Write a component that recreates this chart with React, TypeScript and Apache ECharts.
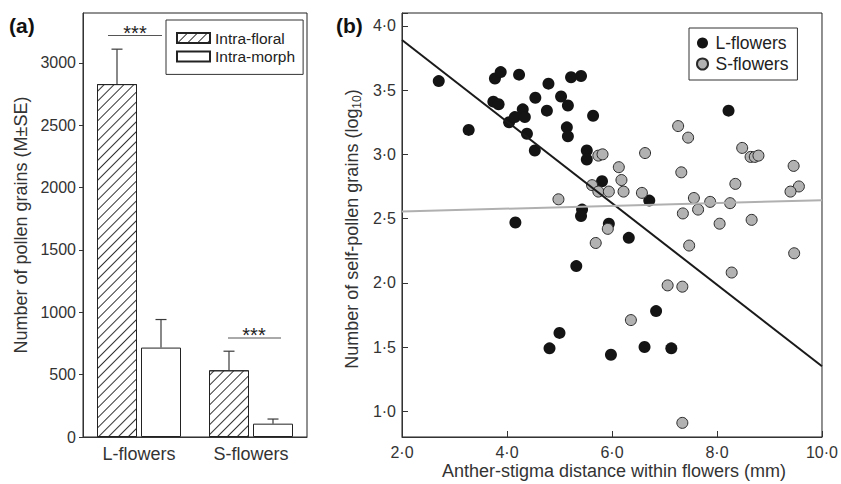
import React, { useEffect, useRef } from 'react';
import * as echarts from 'echarts';

// ---------- Panel (a) data ----------
const groups = ['L-flowers', 'S-flowers'];
const intraFloralMean = [2830, 535];
const intraFloralSE = [280, 153];
const intraMorphMean = [717, 107];
const intraMorphSE = [225, 37];

// ---------- Panel (b) data ----------
const lFlowers: [number, number][] = [
  [2.70, 3.57], [3.27, 3.19], [3.77, 3.59], [3.88, 3.64], [4.23, 3.62],
  [3.74, 3.41], [3.84, 3.39], [4.04, 3.25], [4.15, 3.29], [4.30, 3.35],
  [4.34, 3.29], [4.54, 3.44], [4.38, 3.16], [4.53, 3.03], [4.16, 2.47],
  [4.79, 3.55], [4.76, 3.34], [5.22, 3.60], [5.41, 3.61], [5.03, 3.45],
  [5.16, 3.38], [5.64, 3.30], [5.14, 3.21], [5.16, 3.14], [5.52, 3.03],
  [5.52, 2.96], [5.81, 2.79], [6.71, 2.64], [5.43, 2.57], [5.41, 2.52],
  [5.94, 2.46], [6.32, 2.35], [5.32, 2.13], [4.81, 1.49], [5.00, 1.61],
  [5.98, 1.44], [6.62, 1.50], [7.13, 1.49], [6.84, 1.78], [8.22, 3.34],
];
const sFlowers: [number, number][] = [
  [4.98, 2.65], [7.26, 3.22], [6.63, 3.01], [5.74, 2.99], [5.82, 3.00],
  [6.13, 2.90], [6.18, 2.80], [5.62, 2.76], [5.74, 2.71], [5.94, 2.71],
  [6.22, 2.71], [6.57, 2.70], [7.32, 2.86], [7.35, 2.54], [5.92, 2.42],
  [5.69, 2.31], [7.45, 3.13], [8.48, 3.05], [8.64, 2.98], [8.72, 2.98],
  [8.79, 2.99], [9.46, 2.91], [9.56, 2.75], [9.40, 2.71], [8.35, 2.77],
  [7.56, 2.66], [7.64, 2.57], [7.87, 2.63], [8.25, 2.62], [8.05, 2.46],
  [8.66, 2.49], [7.47, 2.29], [9.47, 2.23], [8.28, 2.08], [7.34, 1.97],
  [7.34, 0.91], [7.06, 1.98], [6.36, 1.71],
];
const lFit: [number, number][] = [[2.0, 3.89], [10.0, 1.35]];
const sFit: [number, number][] = [[2.0, 2.555], [10.0, 2.643]];

const FONT = 'Liberation Sans, Arial, Helvetica, sans-serif';
const fmtDot = (v: number) => v.toFixed(1).replace('.', '\u00b7');

function errorSeries(name: string, means: number[], ses: number[], offset: number) {
  return {
    type: 'custom',
    name,
    xAxisIndex: 0,
    yAxisIndex: 0,
    z: 5,
    silent: true,
    encode: { x: 0, y: 1 },
    data: means.map((m, i) => [i, m, ses[i]]),
    renderItem: (params: any, api: any) => {
      const cat = api.value(0);
      const mean = api.value(1);
      const se = api.value(2);
      const base = api.coord([cat, mean]);
      const top = api.coord([cat, mean + se]);
      const x = base[0] + offset;
      const st = { stroke: '#3a3a3a', lineWidth: 1.2 };
      return {
        type: 'group',
        children: [
          { type: 'line', shape: { x1: x, y1: base[1], x2: x, y2: top[1] }, style: st },
          { type: 'line', shape: { x1: x - 5.5, y1: top[1], x2: x + 5.5, y2: top[1] }, style: st },
        ],
      };
    },
  };
}

export default function App() {
  const ref = useRef<HTMLDivElement>(null);
  useEffect(() => {
    if (!ref.current) return;
    const chart = echarts.init(ref.current, undefined, { renderer: 'svg' });
    const hatch = {
      symbol: 'rect',
      symbolSize: 1,
      dashArrayX: [1, 0],
      dashArrayY: [1, 6],
      rotation: -Math.PI / 4,
      color: '#333',
    };
    const axisTxt = { color: '#333', fontFamily: FONT };
    chart.setOption({
      animation: false,
      backgroundColor: '#fff',
      textStyle: { fontFamily: FONT },
      grid: [
        { left: 83, top: 13, width: 224, height: 424, show: true, borderColor: '#222', borderWidth: 1 },
        { left: 402, top: 13, width: 424, height: 424, show: true, borderColor: '#222', borderWidth: 1 },
      ],
      xAxis: [
        {
          gridIndex: 0,
          type: 'category',
          data: groups,
          axisLine: { lineStyle: { color: '#333' } },
          axisTick: { show: false },
          axisLabel: { ...axisTxt, fontSize: 18, margin: 8 },
        },
        {
          gridIndex: 1,
          type: 'value',
          min: 2,
          max: 10,
          interval: 2,
          splitLine: { show: false },
          axisLine: { lineStyle: { color: '#333' } },
          axisTick: { inside: true, length: 6, lineStyle: { color: '#333' } },
          axisLabel: { ...axisTxt, fontSize: 16, margin: 7, formatter: fmtDot },
        },
      ],
      yAxis: [
        {
          gridIndex: 0,
          type: 'value',
          min: 0,
          max: 3400,
          interval: 500,
          splitLine: { show: false },
          axisLine: { show: true, lineStyle: { color: '#333' } },
          axisTick: { show: true, length: 4, lineStyle: { color: '#333' } },
          axisLabel: {
            ...axisTxt,
            fontSize: 16,
            margin: 7,
            showMaxLabel: false,
            formatter: (v: number) => (v % 500 === 0 ? String(v) : ''),
          },
        },
        {
          gridIndex: 1,
          type: 'value',
          min: 0.8,
          max: 4.1,
          splitNumber: 7,
          splitLine: { show: false },
          axisLine: { show: true, lineStyle: { color: '#333' } },
          axisTick: { show: true, inside: true, length: 6, lineStyle: { color: '#333' } },
          axisLabel: {
            ...axisTxt,
            fontSize: 16,
            margin: 6,
            formatter: (v: number) =>
              Math.abs(v * 2 - Math.round(v * 2)) < 1e-6 ? fmtDot(v) : '',
          },
        },
      ],
      legend: [
        {
          data: ['Intra-floral', 'Intra-morph'],
          orient: 'vertical',
          left: 166,
          top: 20,
          icon: 'rect',
          itemWidth: 33,
          itemHeight: 10,
          itemGap: 2.4,
          padding: [10, 8, 10, 10],
          borderColor: '#333',
          borderWidth: 1,
          selectedMode: false,
          textStyle: { fontSize: 15.5, color: '#222', lineHeight: 16, fontFamily: FONT },
        },
        {
          data: ['L-flowers', 'S-flowers'],
          orient: 'vertical',
          left: 689,
          top: 28,
          icon: 'circle',
          itemWidth: 16,
          itemHeight: 11,
          itemGap: 3,
          padding: [6, 9, 7, 7],
          borderColor: '#333',
          borderWidth: 1,
          selectedMode: false,
          textStyle: { fontSize: 17.5, color: '#222', lineHeight: 18, fontFamily: FONT },
        },
      ],
      series: [
        {
          type: 'bar',
          name: 'Intra-floral',
          xAxisIndex: 0,
          yAxisIndex: 0,
          data: intraFloralMean,
          barWidth: 40,
          barGap: '10%',
          itemStyle: { color: '#fff', borderColor: '#222', borderWidth: 1, decal: hatch },
        },
        {
          type: 'bar',
          name: 'Intra-morph',
          xAxisIndex: 0,
          yAxisIndex: 0,
          data: intraMorphMean,
          barWidth: 40,
          barGap: '10%',
          itemStyle: { color: '#fff', borderColor: '#222', borderWidth: 1 },
        },
        errorSeries('errFloral', intraFloralMean, intraFloralSE, -22),
        errorSeries('errMorph', intraMorphMean, intraMorphSE, 22),
        {
          type: 'scatter',
          name: 'L-flowers',
          xAxisIndex: 1,
          yAxisIndex: 1,
          data: lFlowers,
          symbolSize: 12,
          itemStyle: { color: '#141414', opacity: 1 },
          z: 2,
        },
        {
          type: 'scatter',
          name: 'S-flowers',
          xAxisIndex: 1,
          yAxisIndex: 1,
          data: sFlowers,
          symbolSize: 11,
          itemStyle: { color: '#b2b2b2', borderColor: '#2a2a2a', borderWidth: 1, opacity: 1 },
          z: 3,
        },
        {
          type: 'line',
          name: 'L-fit',
          xAxisIndex: 1,
          yAxisIndex: 1,
          data: lFit,
          showSymbol: false,
          symbol: 'none',
          silent: true,
          lineStyle: { color: '#1a1a1a', width: 2 },
          z: 4,
        },
        {
          type: 'line',
          name: 'S-fit',
          xAxisIndex: 1,
          yAxisIndex: 1,
          data: sFit,
          showSymbol: false,
          symbol: 'none',
          silent: true,
          lineStyle: { color: '#b0b0b0', width: 2 },
          z: 4,
        },
      ],
      graphic: [
        { type: 'text', left: 9, top: 15, style: { text: '(a)', fontSize: 21, fontWeight: 'bold', fill: '#111', fontFamily: FONT } },
        { type: 'text', left: 336, top: 15, style: { text: '(b)', fontSize: 21, fontWeight: 'bold', fill: '#111', fontFamily: FONT } },
        // y-axis title (a)
        {
          type: 'text',
          x: 21,
          y: 225,
          rotation: Math.PI / 2,
          style: {
            text: 'Number of pollen grains (M\u00b1SE)',
            fontSize: 18,
            fill: '#333',
            fontFamily: FONT,
            align: 'center',
            verticalAlign: 'middle',
          },
        },
        // y-axis title (b)
        {
          type: 'text',
          x: 352,
          y: 229,
          rotation: Math.PI / 2,
          style: {
            text: '{a|Number of self-pollen grains (log}{s|10}{a|)}',
            fill: '#333',
            fontFamily: FONT,
            align: 'center',
            verticalAlign: 'middle',
            rich: {
              a: { fontSize: 18, lineHeight: 22, fill: '#333', fontFamily: FONT },
              s: { fontSize: 12, lineHeight: 14, verticalAlign: 'bottom', fill: '#333', fontFamily: FONT },
            },
          },
        },
        // x-axis title (b)
        {
          type: 'text',
          x: 614,
          y: 471,
          style: {
            text: 'Anther-stigma distance within flowers (mm)',
            fontSize: 18,
            fill: '#333',
            fontFamily: FONT,
            align: 'center',
            verticalAlign: 'middle',
          },
        },
        // significance markers
        { type: 'line', shape: { x1: 108, y1: 35.5, x2: 162, y2: 35.5 }, style: { stroke: '#555', lineWidth: 1 } },
        { type: 'text', x: 135, y: 32.5, style: { text: '***', fontSize: 20, fill: '#222', fontFamily: FONT, align: 'center', verticalAlign: 'middle' } },
        { type: 'line', shape: { x1: 228, y1: 338, x2: 281, y2: 338 }, style: { stroke: '#555', lineWidth: 1 } },
        { type: 'text', x: 254, y: 334.5, style: { text: '***', fontSize: 20, fill: '#222', fontFamily: FONT, align: 'center', verticalAlign: 'middle' } },
      ],
    });
    return () => chart.dispose();
  }, []);
  return (
    <div
      ref={ref}
      style={{ position: 'fixed', left: 0, top: 0, width: 841, height: 484, background: '#fff' }}
    />
  );
}
